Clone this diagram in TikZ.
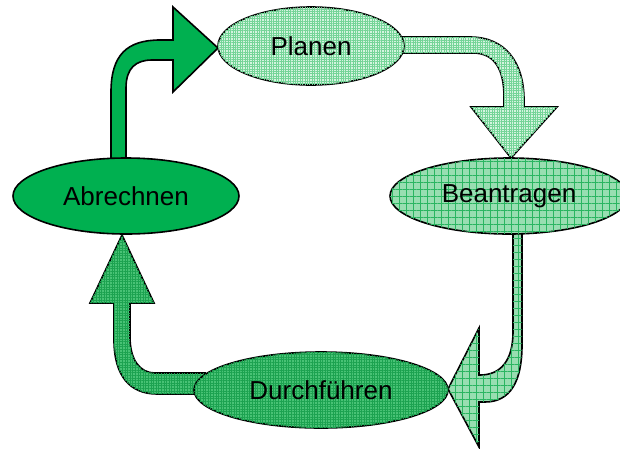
\documentclass[tikz,border=0pt]{standalone}
\usepackage{fontspec}
\setmainfont{Liberation Sans}
\usetikzlibrary{shapes.geometric,patterns.meta,calc}
\definecolor{solidgreen}{HTML}{00B050}
\definecolor{paleBase}{HTML}{D4F4DF}
\definecolor{paleGrid}{HTML}{74D497}
\definecolor{midBase}{HTML}{98DEB1}
\definecolor{midGrid}{HTML}{2AB561}
\definecolor{darkBase}{HTML}{48C275}
\definecolor{darkGrid}{HTML}{1CA250}
\tikzset{
  stage/.style={ellipse,draw=black,line width=1.6pt,inner sep=0pt,font=\fontsize{26}{28}\selectfont},
  blockarrow/.style={draw=black,line width=1.6pt,line join=miter},
  solidfill/.style={fill=solidgreen},
  palefill/.style={fill=paleBase,postaction={pattern={Hatch[angle=0,distance=2.4pt,line width=0.45pt]},pattern color=paleGrid}},
  midfill/.style={fill=midBase,postaction={pattern={Hatch[angle=0,distance=7pt,line width=0.8pt]},pattern color=midGrid}},
  darkfill/.style={fill=darkBase,postaction={pattern={Hatch[angle=0,distance=2.6pt,line width=0.5pt]},pattern color=darkGrid}},
}
\begin{document}
\begin{tikzpicture}[x=1pt,y=-1pt]
\useasboundingbox (0,0) rectangle (620,448);
% node positions (coordinates only, ellipses drawn after arrows)
\coordinate (planC) at (311,46);
\coordinate (beanC) at (509,196);
\coordinate (abrC) at (126,196);
\coordinate (durchC) at (321,390);
% arrow 1: Abrechnen -> Planen
\path[blockarrow,solidfill] (111,170) -- (111,92) .. controls (111,55) and (127,40) .. (160,40) -- (173,40) -- (173,7) -- (218,48) -- (173,92) -- (173,60) -- (152,60) .. controls (136,60) and (126,68) .. (126,88) -- (126,170) -- cycle;
% arrow 2: Planen -> Beantragen
\path[blockarrow,palefill] (390,37) -- (470,37) .. controls (505,37) and (524,62) .. (524,100) -- (524,107) -- (557,107) -- (511,158) -- (471,107) -- (504,107) -- (504,97) .. controls (504,70) and (495,53) .. (473,53) -- (390,53) -- cycle;
% arrow 3: Beantragen -> Durchfuehren
\path[blockarrow,midfill] (513,220) -- (513,332) .. controls (513,360) and (501,375) .. (480,375) -- (479,375) -- (479,328) -- (448,389) -- (479,447) -- (479,402) -- (485,402) .. controls (510,402) and (522,382) .. (522,345) -- (522,220) -- cycle;
% arrow 4: Durchfuehren -> Abrechnen
\path[blockarrow,darkfill] (205,373) -- (155,373) .. controls (140,373) and (130,360) .. (130,337) -- (130,303) -- (154,303) -- (122,235) -- (90,303) -- (114,303) -- (114,340) .. controls (114,376) and (130,394) .. (157,394) -- (205,394) -- cycle;
% stages
\node[stage,solidfill,minimum width=226pt,minimum height=76pt] (abr) at (abrC) {Abrechnen};
\node[stage,palefill,minimum width=186pt,minimum height=78pt] (plan) at (planC) {Planen};
\node[stage,midfill,minimum width=238pt,minimum height=76pt] (bean) at (beanC) {Beantragen};
\node[stage,darkfill,minimum width=254pt,minimum height=76pt] (durch) at (durchC) {Durchführen};
\end{tikzpicture}
\end{document}
